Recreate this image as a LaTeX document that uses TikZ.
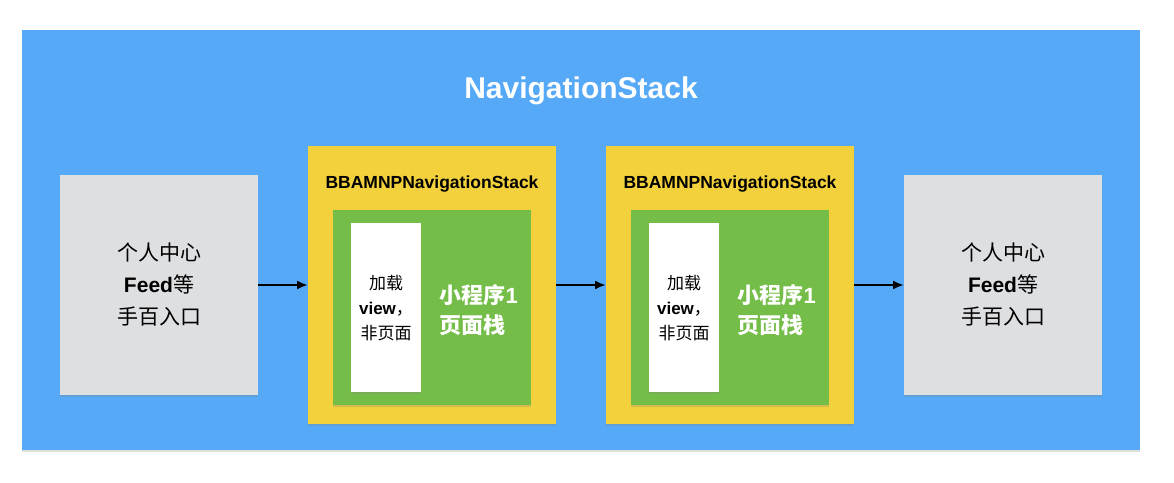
\documentclass[tikz,border=0pt]{standalone}
\usepackage{fontspec}
\setmainfont{Liberation Sans}
\newfontfamily\cjk{Noto Sans CJK SC}
\usetikzlibrary{arrows.meta,shadows}

\definecolor{stackblue}{RGB}{86,169,246}
\definecolor{mpyellow}{RGB}{243,209,60}
\definecolor{pagegreen}{RGB}{116,189,72}
\definecolor{entrygray}{RGB}{222,223,225}

\begin{document}
\begin{tikzpicture}[x=1pt,y=-1pt,
  box/.style={inner sep=0pt,outer sep=0pt,drop shadow={shadow xshift=0pt,shadow yshift=-1.5pt,opacity=0.25}},
  entry/.style={box,fill=entrygray,minimum width=198pt,minimum height=220pt},
  mpstack/.style={box,fill=mpyellow,minimum width=248pt,minimum height=278pt},
  pagestack/.style={box,fill=pagegreen,minimum width=198pt,minimum height=195pt},
  viewbox/.style={box,fill=white,minimum width=70pt,minimum height=169pt},
  flow/.style={-{Latex[length=11pt,width=9pt]},line width=2.2pt}]
\useasboundingbox (0,0) rectangle (1174,482);

\node[box,fill=stackblue,minimum width=1118pt,minimum height=420pt] (nav) at (581,240) {};
\node[text=white,font=\fontsize{30}{36}\selectfont\bfseries] (navtitle) at (581,91) {NavigationStack};

\node[entry,align=center,font=\fontsize{21}{32}\selectfont] (entryL) at (159,285)
  {{\cjk 个人中心}\\{\bfseries Feed}{\cjk 等}\\{\cjk 手百入口}};
\node[entry,align=center,font=\fontsize{21}{32}\selectfont] (entryR) at (1003,285)
  {{\cjk 个人中心}\\{\bfseries Feed}{\cjk 等}\\{\cjk 手百入口}};

\foreach \i/\x in {1/432,2/730}{
  \node[mpstack] (mp\i) at (\x,285) {};
  \node[font=\fontsize{17.5}{20}\selectfont\bfseries] (mplabel\i) at (\x,184) {BBAMNPNavigationStack};
  \node[pagestack] (page\i) at (\x,307.5) {};
  \node[viewbox] (view\i) at (\x-46,307.5) {};
  \node[align=center,font=\fontsize{17}{25}\selectfont] (viewtext\i) at (\x-46,308)
    {{\cjk 加载}\\{\bfseries view}{\cjk ，}\\{\cjk 非页面}};
  \node[anchor=west,align=left,text=white,font=\fontsize{22}{30}\selectfont\cjk\bfseries] (pagetext\i) at (\x+4,310)
    {小程序{\fontspec{Liberation Sans}\bfseries 1}\\页面栈};
}

\draw[flow] (entryL.east) -- (mp1.west);
\draw[flow] (mp1.east) -- (mp2.west);
\draw[flow] (mp2.east) -- (entryR.west);
\end{tikzpicture}
\end{document}
